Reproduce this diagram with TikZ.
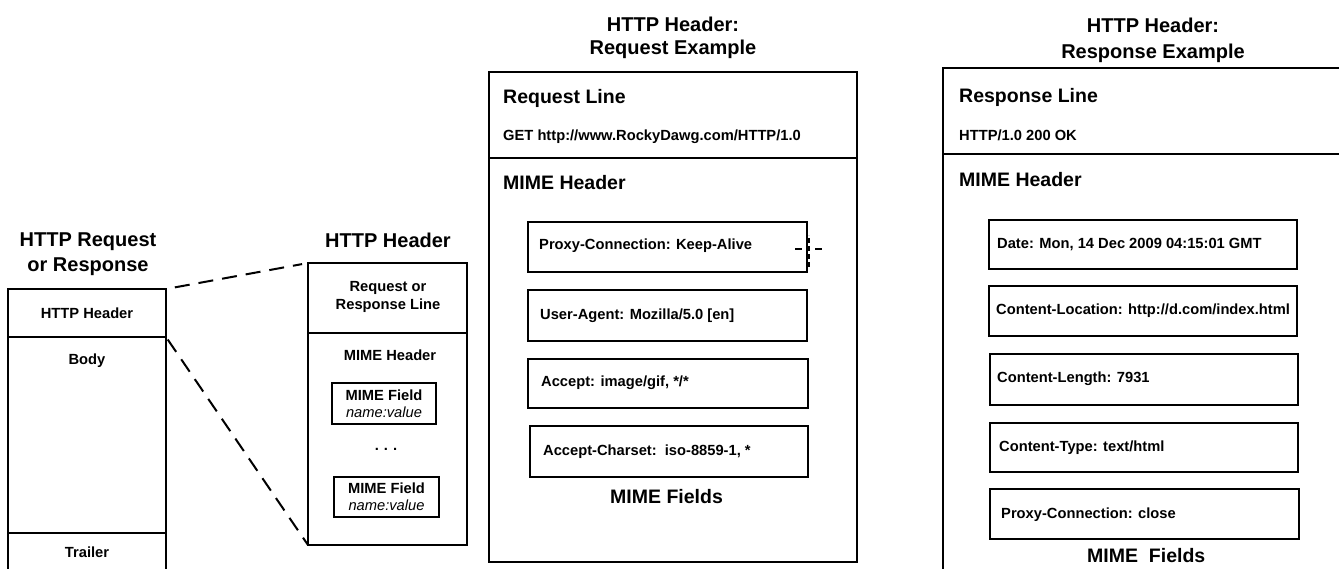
\documentclass[tikz,border=0pt]{standalone}
\usepackage{fontspec}
\setmainfont{Liberation Sans}
\begin{document}
\begin{tikzpicture}[x=1pt,y=-1pt,
  frame/.style={draw, line width=1.9pt, inner sep=0pt, outer sep=0pt, anchor=north west},
  field/.style={draw, line width=1.8pt, inner sep=0pt, outer sep=0pt, anchor=north west},
  ttl/.style={font=\fontsize{20}{25}\selectfont\bfseries, align=center, inner sep=0pt},
  sub/.style={font=\fontsize{19.5}{23}\selectfont\bfseries, anchor=west, inner sep=0pt},
  small/.style={font=\fontsize{14.7}{18}\selectfont\bfseries, inner sep=0pt},
  fieldtxt/.style={small, anchor=west},
  link/.style={line width=2pt, dash pattern=on 15pt off 9pt}]
\useasboundingbox (0,0) rectangle (1339,568);
\clip (0,0) rectangle (1339,568);

% ---- HTTP request or response ----
\node[ttl] (t1) at (88,254) {HTTP Request\\or Response};
\node[frame, minimum width=158pt, minimum height=48pt] (p1h) at (8,289) {};
\node[frame, minimum width=158pt, minimum height=196pt] (p1b) at (8,337) {};
\node[frame, minimum width=158pt, minimum height=90pt] (p1t) at (8,533) {};
\node[small] (p1hl) at (87,313) {HTTP Header};
\node[small] (p1bl) at (87,361) {Body};
\node[small] (p1tl) at (87,552) {Trailer};

% ---- generic HTTP header ----
\node[ttl] (t2) at (388,240) {HTTP Header};
\node[frame, minimum width=159pt, minimum height=70pt] (p2top) at (308,263) {};
\node[frame, minimum width=159pt, minimum height=212pt] (p2mime) at (308,333) {};
\node[small, align=center, font=\fontsize{14.7}{18}\selectfont\bfseries] (p2l) at (388,297) {Request or\\Response Line};
\node[small] (p2m) at (390,355) {MIME Header};
\node[field, minimum width=104pt, minimum height=41pt] (f2a) at (332,383) {};
\node[field, minimum width=105pt, minimum height=40pt] (f2b) at (334,477) {};
\node[small, align=center] (f2al) at (f2a.center) {MIME Field\\[-1pt]{\mdseries\itshape name:value}};
\node[small, align=center] (f2bl) at (f2b.center) {MIME Field\\[-1pt]{\mdseries\itshape name:value}};
\node[small] (dots) at (386,449) {.\hspace{5pt}.\hspace{5pt}.};

% connectors from the small header row to the expanded header
\draw[link, shorten <=9pt, shorten >=6pt] (p1h.north east) -- (p2top.north west);
\draw[link, shorten <=3pt] (p1h.south east) -- (p2mime.south west);

% ---- request example ----
\node[ttl, font=\fontsize{20}{23}\selectfont\bfseries] (t3) at (673,38) {HTTP Header:\\Request Example};
\node[frame, minimum width=368pt, minimum height=86pt] (p3top) at (489,72) {};
\node[frame, minimum width=368pt, minimum height=404pt] (p3mime) at (489,158) {};
\node[sub] (p3l) at (503,98) {Request Line};
\node[fieldtxt] (p3get) at (503,137) {GET http://www.RockyDawg.com/HTTP/1.0};
\node[sub] (p3m) at (503,183) {MIME Header};
\node[field, minimum width=279pt, minimum height=50pt] (q1) at (528,222) {};
\node[field, minimum width=279pt, minimum height=51pt] (q2) at (528,290) {};
\node[field, minimum width=280pt, minimum height=49pt] (q3) at (528,359) {};
\node[field, minimum width=278pt, minimum height=51pt] (q4) at (530,426) {};
\node[fieldtxt] (q1l) at (539,246) {Proxy-Connection: Keep-Alive};
\node[fieldtxt] (q2l) at (540,316) {User-Agent: Mozilla/5.0 [en]};
\node[fieldtxt] (q3l) at (541,383) {Accept: image/gif, */*};
\node[fieldtxt] (q4l) at (543,452) {Accept-Charset:\ \ iso-8859-1, *};
\node[sub] (q5l) at (610,497) {MIME Fields};
\draw[line width=1.2pt] ([xshift=-12pt,yshift=-2pt]q1.east) -- ([xshift=-5pt,yshift=-2pt]q1.east);
\draw[line width=1.2pt] ([xshift=8pt,yshift=-2pt]q1.east) -- ([xshift=15pt,yshift=-2pt]q1.east);
\draw[line width=1.2pt, dash pattern=on 5pt off 3pt] ([xshift=2pt,yshift=-20pt]q1.east) -- ([xshift=2pt,yshift=12pt]q1.east);

% ---- response example ----
\node[ttl, font=\fontsize{20}{26}\selectfont\bfseries] (t4) at (1153,40) {HTTP Header:\\Response Example};
\node[frame, minimum width=420pt, minimum height=86pt] (p4top) at (943,68) {};
\node[frame, minimum width=420pt, minimum height=470pt] (p4mime) at (943,154) {};
\node[sub] (p4l) at (959,97) {Response Line};
\node[fieldtxt] (p4st) at (959,135) {HTTP/1.0 200 OK};
\node[sub] (p4m) at (959,180) {MIME Header};
\node[field, minimum width=308pt, minimum height=49pt] (r1) at (989,220) {};
\node[field, minimum width=308pt, minimum height=50pt] (r2) at (989,286) {};
\node[field, minimum width=308pt, minimum height=51pt] (r3) at (990,354) {};
\node[field, minimum width=308pt, minimum height=49pt] (r4) at (990,423) {};
\node[field, minimum width=309pt, minimum height=50pt] (r5) at (990,489) {};
\node[fieldtxt] (r1l) at (997,245) {Date: Mon, 14 Dec 2009 04:15:01 GMT};
\node[fieldtxt] (r2l) at (996,311) {Content-Location: http://d.com/index.html};
\node[fieldtxt] (r3l) at (997,379) {Content-Length: 7931};
\node[fieldtxt] (r4l) at (999,448) {Content-Type: text/html};
\node[fieldtxt] (r5l) at (1001,515) {Proxy-Connection: close};
\node[sub] (r6l) at (1087,556) {MIME\ \ Fields};
\end{tikzpicture}
\end{document}
